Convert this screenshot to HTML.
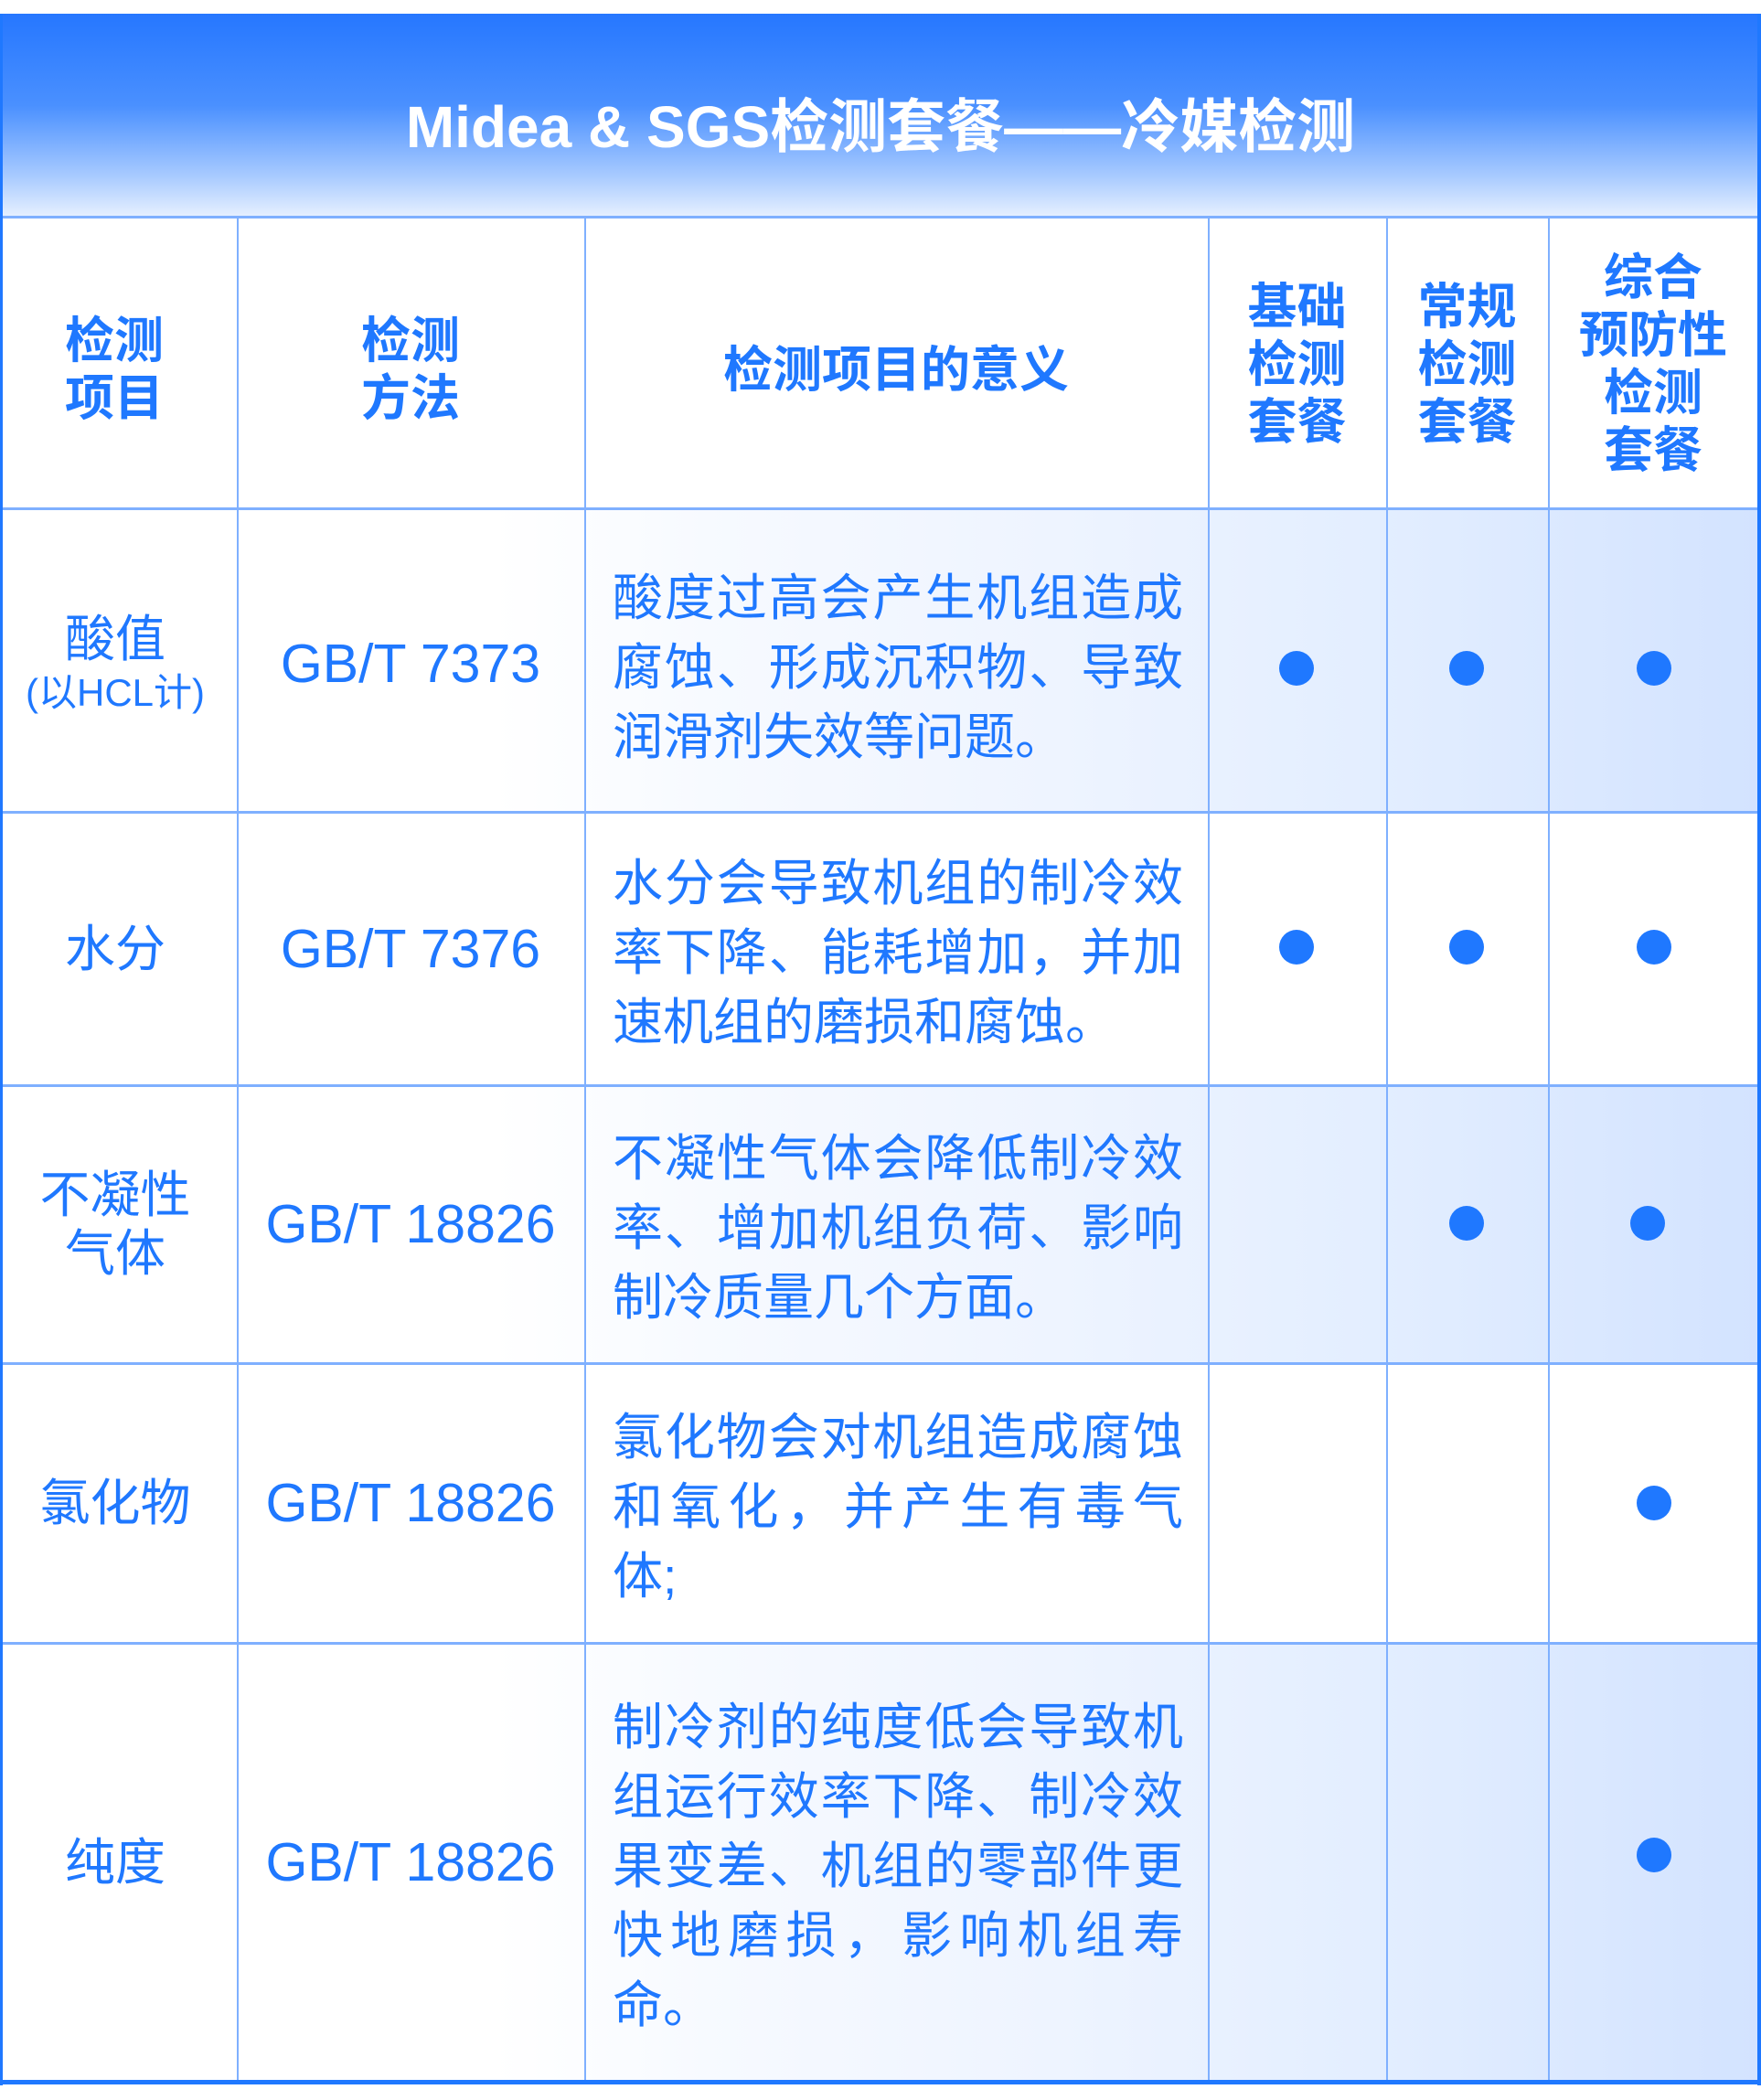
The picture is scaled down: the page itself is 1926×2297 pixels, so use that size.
<!DOCTYPE html>
<html><head><meta charset="utf-8">
<style>
*{margin:0;padding:0;box-sizing:border-box}
body{width:1926px;height:2297px;background:#fff;position:relative;overflow:hidden;font-family:"Liberation Sans","Noto Sans CJK SC",sans-serif;color:#1f78ff}
.abs{position:absolute}
.title{left:2px;top:15px;width:1922px;height:223px;padding-top:14px;background:linear-gradient(#2677ff 0%,#4a90ff 45%,#a9cbff 80%,#e8f1ff 100%);color:#fff;font-size:64px;font-weight:bold;display:flex;align-items:center;justify-content:center}
.row{left:2px;width:1922px}
.grad{background:linear-gradient(90deg,#fff 0%,#fff 28%,#f7faff 40%,#eef4ff 60%,#e3eeff 78%,#d3e3ff 100%)}
.vl{position:absolute;top:238px;height:2040px;width:2px;background:#7fb0ff}
.hl{position:absolute;left:2px;width:1922px;height:3px;background:#7fb0ff}
.cell{position:absolute;display:flex;align-items:center;justify-content:center;text-align:center}
.hd{font-weight:bold;font-size:54px;line-height:63px}
.nm{font-size:55px;line-height:64px}
.std{font-size:59px}
.desc{position:absolute;left:670px;width:624px;font-size:55px;line-height:76px;display:flex;flex-direction:column;justify-content:center}
.desc div{text-align:justify;text-align-last:justify;white-space:nowrap}
.desc div.l{text-align-last:left}
.dot{position:absolute;width:38px;height:38px;border-radius:50%;background:#1f78ff}
</style></head><body>
<div class="abs title">Midea &amp; SGS检测套餐——冷媒检测</div>
<div class="abs row grad" style="top:556px;height:332px"></div>
<div class="abs row grad" style="top:1187px;height:304px"></div>
<div class="abs row grad" style="top:1797px;height:480px"></div>

<div class="vl" style="left:259px"></div>
<div class="vl" style="left:639px"></div>
<div class="vl" style="left:1321px"></div>
<div class="vl" style="left:1516px"></div>
<div class="vl" style="left:1693px"></div>
<div class="hl" style="top:236px"></div>
<div class="hl" style="top:555px"></div>
<div class="hl" style="top:887px"></div>
<div class="hl" style="top:1186px"></div>
<div class="hl" style="top:1490px"></div>
<div class="hl" style="top:1796px"></div>
<div class="abs" style="left:0;top:15px;width:3px;height:2266px;background:#1f78ff"></div>
<div class="abs" style="left:1922px;top:15px;width:4px;height:2266px;background:#1f78ff"></div>
<div class="abs" style="left:0;top:2275px;width:1926px;height:5px;background:#1f78ff"></div>

<!-- header -->
<div class="cell hd" style="left:0;top:246px;width:250px;height:318px">检测<br>项目</div>
<div class="cell hd" style="left:259px;top:246px;width:380px;height:318px">检测<br>方法</div>
<div class="cell hd" style="left:639px;top:246px;width:682px;height:318px">检测项目的意义</div>
<div class="cell hd" style="left:1321px;top:240px;width:195px;height:318px">基础<br>检测<br>套餐</div>
<div class="cell hd" style="left:1516px;top:240px;width:177px;height:318px">常规<br>检测<br>套餐</div>
<div class="cell hd" style="left:1693px;top:240px;width:230px;height:318px">综合<br>预防性<br>检测<br>套餐</div>

<!-- row1 -->
<div class="cell nm" style="left:0;top:560px;width:252px;height:332px;flex-direction:column">酸值<span style="font-size:42px;line-height:54px">(以HCL计)</span></div>
<div class="cell std" style="left:259px;top:560px;width:380px;height:332px">GB/T 7373</div>
<div class="desc" style="top:564px;height:332px"><div>酸度过高会产生机组造成</div><div>腐蚀、形成沉积物、导致</div><div class="l">润滑剂失效等问题。</div></div>
<div class="dot" style="left:1399px;top:712px"></div><div class="dot" style="left:1585px;top:712px"></div><div class="dot" style="left:1790px;top:712px"></div>

<!-- row2 -->
<div class="cell nm" style="left:0;top:888px;width:252px;height:299px">水分</div>
<div class="cell std" style="left:259px;top:888px;width:380px;height:299px">GB/T 7376</div>
<div class="desc" style="top:892px;height:299px"><div>水分会导致机组的制冷效</div><div>率下降、能耗增加，并加</div><div class="l">速机组的磨损和腐蚀。</div></div>
<div class="dot" style="left:1399px;top:1017px"></div><div class="dot" style="left:1585px;top:1017px"></div><div class="dot" style="left:1790px;top:1017px"></div>

<!-- row3 -->
<div class="cell nm" style="left:0;top:1187px;width:252px;height:304px">不凝性<br>气体</div>
<div class="cell std" style="left:259px;top:1187px;width:380px;height:304px">GB/T 18826</div>
<div class="desc" style="top:1191px;height:304px"><div>不凝性气体会降低制冷效</div><div>率、增加机组负荷、影响</div><div class="l">制冷质量几个方面。</div></div>
<div class="dot" style="left:1585px;top:1319px"></div><div class="dot" style="left:1783px;top:1319px"></div>

<!-- row4 -->
<div class="cell nm" style="left:0;top:1491px;width:252px;height:306px">氯化物</div>
<div class="cell std" style="left:259px;top:1491px;width:380px;height:306px">GB/T 18826</div>
<div class="desc" style="top:1495px;height:306px"><div>氯化物会对机组造成腐蚀</div><div>和氧化，并产生有毒气</div><div class="l">体;</div></div>
<div class="dot" style="left:1790px;top:1625px"></div>

<!-- row5 -->
<div class="cell nm" style="left:0;top:1797px;width:252px;height:480px">纯度</div>
<div class="cell std" style="left:259px;top:1797px;width:380px;height:480px">GB/T 18826</div>
<div class="desc" style="top:1801px;height:480px"><div>制冷剂的纯度低会导致机</div><div>组运行效率下降、制冷效</div><div>果变差、机组的零部件更</div><div>快地磨损，影响机组寿</div><div class="l">命。</div></div>
<div class="dot" style="left:1790px;top:2010px"></div>
</body></html>
